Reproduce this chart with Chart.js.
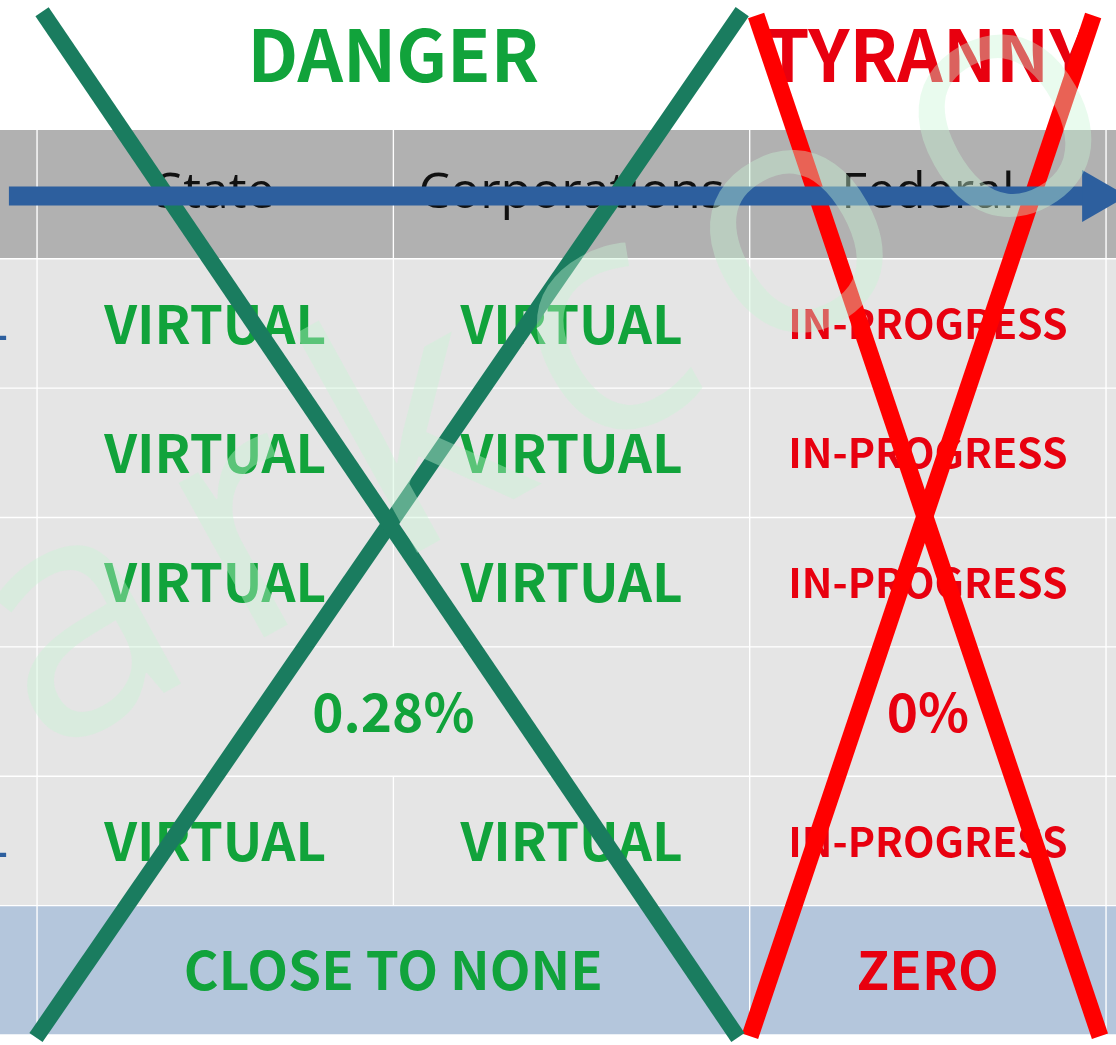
<!DOCTYPE html>
<html>
<head>
<meta charset="utf-8">
<title>Danger / Tyranny</title>
<script src="https://cdn.jsdelivr.net/npm/chart.js@4.4.1/dist/chart.umd.min.js"></script>
<style>
    html, body { margin: 0; padding: 0; background: #ffffff; }
    #quadro { width: 1116px; height: 1045px; position: relative; }
</style>
</head>
<body>
<div id="quadro"><canvas id="grafico-tabela"></canvas></div>
<script>
// table rows, top to bottom (first one is the heading line above the table)
const rowLabels = ['heading', 'header', 'row1', 'row2', 'row3', 'row4', 'row5', 'total'];
const headings = ['DANGER', 'TYRANNY'];
const columns = ['State', 'Corporations', 'Federal'];
const stateValues = ['VIRTUAL', 'VIRTUAL', 'VIRTUAL', '0.28%', 'VIRTUAL', 'CLOSE TO NONE'];
const corporationValues = ['VIRTUAL', 'VIRTUAL', 'VIRTUAL', null, 'VIRTUAL', null]; // null = merged with State
const federalValues = ['IN-PROGRESS', 'IN-PROGRESS', 'IN-PROGRESS', '0%', 'IN-PROGRESS', 'ZERO'];
const rowMarkers = ['-', '', '', '', '-', ''];

// strike-through lines, x in column units, y in row units
const dangerCross = [
    [{ x: 0.014, y: 0.09 }, { x: 1.967, y: 8.02 }],
    [{ x: 1.979, y: 0.09 }, { x: -0.003, y: 8.02 }]
];
const tyrannyCross = [
    [{ x: 2.018, y: 0.12 }, { x: 2.983, y: 8.01 }],
    [{ x: 2.964, y: 0.12 }, { x: 2.001, y: 8.01 }]
];
const arrowShaft = [{ x: -0.079, y: 1.515 }, { x: 2.94, y: 1.515 }];
const arrowTip = [{ x: 2.975, y: 1.515 }];
const watermarkText = 'arkcoo';
const watermarkAnchor = { x: 0.02, y: 5.87 };

const GREEN = '#11a33b';
const RED = '#e8000f';
const fonteCelula = '"Noto Sans CJK SC", "Noto Sans", sans-serif';
const fonteCabecalho = '"Open Sans", "Noto Sans", sans-serif';
const rowFills = ['rgba(0,0,0,0)', '#b1b1b1', '#e5e5e5', '#e5e5e5', '#e5e5e5', '#e5e5e5', '#e5e5e5', '#b4c6dc'];

function bodyFont(text) {
    if (text === 'IN-PROGRESS') return `bold 41px ${fonteCelula}`;
    return `bold 53px ${fonteCelula}`;
}

function colunaTabela(col, heading, values, color) {
    const data = [];
    const texts = [];
    const fonts = [];
    const colors = [];
    rowLabels.forEach((r, i) => {
        if (i === 0) {
            if (heading) {
                data.push(col === 0 ? [0, 2] : [col, col + 1]);
                texts.push(heading);
                fonts.push(`bold 71px ${fonteCelula}`);
                colors.push(color);
            } else {
                data.push(null); texts.push(''); fonts.push(''); colors.push(color);
            }
            return;
        }
        if (i === 1) {
            data.push([col, col + 1]);
            texts.push(columns[col]);
            fonts.push(`50px ${fonteCabecalho}`);
            colors.push('#111111');
            return;
        }
        const v = values[i - 2];
        if (v === null) {
            data.push(null); texts.push(''); fonts.push(''); colors.push(color);
            return;
        }
        const merged = col === 0 && corporationValues[i - 2] === null;
        data.push([col, merged ? col + 2 : col + 1]);
        texts.push(v);
        fonts.push(bodyFont(v));
        colors.push(color);
    });
    return {
        data,
        cellText: texts,
        cellFont: fonts,
        cellColor: colors,
        cellShift: rowLabels.map((r, i) => (i === 0 ? -10 : 0)),
        backgroundColor: rowFills,
        borderColor: '#ffffff',
        borderWidth: rowLabels.map((r, i) => (i === 0 ? 0 : 1)),
        borderSkipped: false,
        grouped: false,
        order: 10
    };
}

function colunaLateral(start) {
    return {
        data: rowLabels.map((r, i) => (i === 0 ? null : [start, start + 1])),
        cellText: start < 0 ? ['', '', ...rowMarkers] : null,
        cellFont: rowLabels.map(() => `bold 40px ${fonteCelula}`),
        cellColor: '#2d5f9e',
        cellAlign: 'right',
        backgroundColor: rowFills,
        borderColor: '#ffffff',
        borderWidth: 1,
        borderSkipped: false,
        grouped: false,
        order: 10
    };
}

function linha(points, color, width, order) {
    return {
        type: 'line',
        indexAxis: 'x',
        data: points,
        xAxisID: 'x',
        yAxisID: 'y2',
        borderColor: color,
        borderWidth: width,
        borderCapStyle: 'butt',
        pointRadius: 0,
        fill: false,
        tension: 0,
        clip: false,
        order
    };
}

const pluginTextoCelula = {
    id: 'textoCelula',
    afterDatasetDraw(chart, args) {
        const ds = chart.data.datasets[args.index];
        if (!ds.cellText) return;
        const ctx = chart.ctx;
        ctx.save();
        ctx.textBaseline = 'middle';
        args.meta.data.forEach((bar, i) => {
            const texto = ds.cellText[i];
            if (!texto || ds.data[i] == null) return;
            const p = bar.getProps(['x', 'y', 'base'], true);
            ctx.font = ds.cellFont[i];
            ctx.fillStyle = Array.isArray(ds.cellColor) ? ds.cellColor[i] : ds.cellColor;
            if (ds.cellAlign === 'right') {
                // bar ends can come back swapped for floating bars, take the right edge
                const direita = Math.max(p.x, p.base);
                ctx.textAlign = 'right';
                ctx.fillText(texto, direita - 29, p.y + 10);
            } else {
                ctx.textAlign = 'center';
                ctx.fillText(texto, (p.x + p.base) / 2, p.y + (ds.cellShift ? ds.cellShift[i] : 0));
            }
        });
        ctx.restore();
    }
};

const pluginMarcaDagua = {
    id: 'marcaDagua',
    afterDraw(chart) {
        const { ctx, scales } = chart;
        const x = scales.x.getPixelForValue(watermarkAnchor.x);
        const y = scales.y2.getPixelForValue(watermarkAnchor.y);
        ctx.save();
        ctx.translate(x, y);
        ctx.rotate(-29 * Math.PI / 180);
        ctx.font = `330px ${fonteCabecalho}`;
        ctx.letterSpacing = '40px';
        ctx.fillStyle = 'rgba(200, 245, 212, 0.4)';
        ctx.textBaseline = 'alphabetic';
        ctx.textAlign = 'left';
        ctx.fillText(watermarkText, 0, 0);
        ctx.restore();
    }
};

const ctxTabela = document.getElementById('grafico-tabela').getContext('2d');

const graficoTabela = new Chart(ctxTabela, {
    type: 'bar',
    data: {
        labels: rowLabels,
        datasets: [
            colunaTabela(0, headings[0], stateValues, GREEN),
            colunaTabela(1, null, corporationValues, GREEN),
            colunaTabela(2, headings[1], federalValues, RED),
            colunaLateral(-1),
            colunaLateral(3),
            linha(tyrannyCross[0], '#ff0000', 17, 4),
            linha(tyrannyCross[1], '#ff0000', 17, 4),
            linha(dangerCross[0], '#1a7c5f', 16, 3),
            linha(dangerCross[1], '#1a7c5f', 16, 3),
            linha(arrowShaft, '#2d5f9e', 19, 2),
            {
                type: 'line',
                indexAxis: 'x',
                data: arrowTip,
                xAxisID: 'x',
                yAxisID: 'y2',
                showLine: false,
                pointStyle: 'triangle',
                rotation: 90,
                pointRadius: 30,
                pointBackgroundColor: '#2d5f9e',
                pointBorderWidth: 0,
                clip: false,
                order: 1
            }
        ]
    },
    options: {
        indexAxis: 'y',
        responsive: true,
        maintainAspectRatio: false,
        animation: false,
        layout: { autoPadding: false, padding: { top: 0, right: 0, bottom: 10, left: 0 } },
        datasets: {
            bar: { barPercentage: 1, categoryPercentage: 1 }
        },
        scales: {
            x: { type: 'linear', min: -0.104, max: 3.028, offset: false, display: false },
            y: { type: 'category', offset: true, display: false },
            y2: { type: 'linear', axis: 'y', position: 'right', min: 0, max: 8, reverse: true, offset: false, display: false }
        },
        plugins: {
            legend: { display: false },
            tooltip: { enabled: false }
        }
    },
    plugins: [pluginTextoCelula, pluginMarcaDagua]
});
</script>
</body>
</html>
